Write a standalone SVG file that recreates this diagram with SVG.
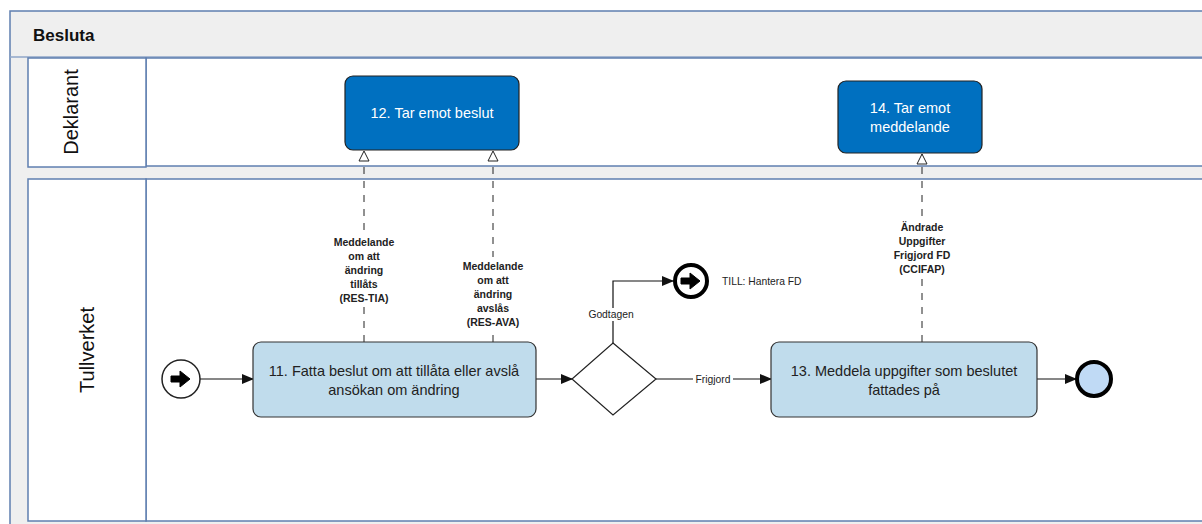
<svg xmlns="http://www.w3.org/2000/svg" width="1202" height="524" viewBox="0 0 1202 524">
<defs>
<style>
.lane{fill:#fff;stroke:#5f7fb0;stroke-width:1.5}
.task{fill:#c0dcec;stroke:#333;stroke-width:1.2}
.dtask{fill:#0070c0;stroke:#222;stroke-width:1.2}
.t{font-family:"Liberation Sans",Arial,sans-serif;font-size:14.5px;fill:#222;text-anchor:middle}
.tw{font-family:"Liberation Sans",Arial,sans-serif;font-size:14.5px;fill:#fff;text-anchor:middle}
.lbl{font-family:"Liberation Sans",Arial,sans-serif;font-size:10.5px;fill:#222;text-anchor:middle;font-weight:bold}
.sm{font-family:"Liberation Sans",Arial,sans-serif;font-size:10.3px;fill:#222}
.flow{fill:none;stroke:#111;stroke-width:1.2}
.msg{fill:none;stroke:#222;stroke-width:1;stroke-dasharray:7,7}
.lanelbl{font-family:"Liberation Sans",Arial,sans-serif;font-size:20px;fill:#111;text-anchor:middle}
</style>
<marker id="arr" markerWidth="12" markerHeight="10" refX="11" refY="5" orient="auto" markerUnits="userSpaceOnUse">
<path d="M0,0 L12,5 L0,10 Z" fill="#111"/>
</marker>
<marker id="hol" markerWidth="12" markerHeight="14" refX="11" refY="6" orient="auto" markerUnits="userSpaceOnUse">
<path d="M1,1 L11,6 L1,11 Z" fill="#fff" stroke="#222" stroke-width="1"/>
</marker>
</defs>
<rect x="0" y="0" width="1202" height="524" fill="#fff"/>
<g id="pool">
<rect x="10" y="11" width="1200" height="520" fill="#efefef" stroke="#5f7fb0" stroke-width="1.5"/>
<text x="33" y="41" font-family="'Liberation Sans',Arial,sans-serif" font-size="17" font-weight="bold" fill="#111">Besluta</text>
<line x1="10" y1="57" x2="1202" y2="57" stroke="#8fa6c8" stroke-width="1.5"/>
</g>
<g id="lane-deklarant">
<rect class="lane" x="146" y="58" width="1070" height="108"/>
<rect class="lane" x="28" y="58" width="118" height="109"/>
<text class="lanelbl" transform="translate(78,112) rotate(-90)">Deklarant</text>
</g>
<g id="lane-tullverket">
<rect class="lane" x="146" y="179" width="1070" height="342"/>
<rect class="lane" x="28" y="179" width="118" height="342"/>
<text class="lanelbl" transform="translate(94,350) rotate(-90)">Tullverket</text>
</g>
<g id="connectors">
<line class="flow" x1="200" y1="379" x2="253" y2="379" marker-end="url(#arr)"/>
<line class="flow" x1="536" y1="379" x2="572" y2="379" marker-end="url(#arr)"/>
<line class="flow" x1="656" y1="379" x2="771" y2="379" marker-end="url(#arr)"/>
<polyline class="flow" points="613,343 613,281 673,281" marker-end="url(#arr)"/>
<line class="flow" x1="1037" y1="379" x2="1076" y2="379" marker-end="url(#arr)"/>
<line class="msg" x1="364" y1="342" x2="364" y2="151" marker-end="url(#hol)"/>
<line class="msg" x1="493" y1="342" x2="493" y2="151" marker-end="url(#hol)"/>
<line class="msg" x1="922" y1="342" x2="922" y2="154" marker-end="url(#hol)"/>
<rect x="326" y="233" width="76" height="72" fill="#fff"/>
<text class="lbl"><tspan x="364" y="246">Meddelande</tspan><tspan x="364" y="260">om att</tspan><tspan x="364" y="274">ändring</tspan><tspan x="364" y="288">tillåts</tspan><tspan x="364" y="302">(RES-TIA)</tspan></text>
<rect x="455" y="257" width="76" height="72" fill="#fff"/>
<text class="lbl"><tspan x="493" y="270">Meddelande</tspan><tspan x="493" y="284">om att</tspan><tspan x="493" y="298">ändring</tspan><tspan x="493" y="312">avslås</tspan><tspan x="493" y="326">(RES-AVA)</tspan></text>
<rect x="876" y="218" width="92" height="58" fill="#fff"/>
<text class="lbl"><tspan x="922" y="231">Ändrade</tspan><tspan x="922" y="245">Uppgifter</tspan><tspan x="922" y="259">Frigjord FD</tspan><tspan x="922" y="273">(CCIFAP)</tspan></text>
<rect x="584" y="308" width="58" height="13" fill="#fff"/>
<text class="sm" x="611" y="318" text-anchor="middle">Godtagen</text>
<rect x="693" y="373" width="40" height="13" fill="#fff"/>
<text class="sm" x="713" y="383" text-anchor="middle">Frigjord</text>
</g>
<g id="task12">
<rect class="dtask" x="345" y="76" width="174" height="74" rx="8"/>
<text class="tw" x="432" y="118">12. Tar emot beslut</text>
</g>
<g id="task14">
<rect class="dtask" x="838" y="81" width="144" height="72" rx="8"/>
<text class="tw"><tspan x="910" y="113">14. Tar emot</tspan><tspan x="910" y="132">meddelande</tspan></text>
</g>
<g id="start">
<circle cx="181" cy="379" r="19" fill="#fff" stroke="#222" stroke-width="1.5"/>
<path d="M171,376 L180,376 L180,371 L190,379 L180,387 L180,382 L171,382 Z" fill="#000" stroke="#000" stroke-width="1" stroke-linejoin="round"/>
</g>
<g id="task11">
<rect class="task" x="253" y="342" width="283" height="75" rx="8"/>
<text class="t"><tspan x="394" y="376">11. Fatta beslut om att tillåta eller avslå</tspan><tspan x="394" y="395">ansökan om ändring</tspan></text>
</g>
<g id="gateway">
<polygon points="613,343 656,379 613,415 572,379" fill="#fff" stroke="#222" stroke-width="1.2"/>
</g>
<g id="link-hantera">
<circle cx="691" cy="281" r="16" fill="#fff" stroke="#000" stroke-width="4"/>
<path d="M681,278 L690,278 L690,273 L700,281 L690,289 L690,284 L681,284 Z" fill="#000" stroke="#000" stroke-width="1" stroke-linejoin="round"/>
<text class="sm" x="722" y="285">TILL: Hantera FD</text>
</g>
<g id="task13">
<rect class="task" x="771" y="342" width="266" height="75" rx="8"/>
<text class="t"><tspan x="904" y="376">13. Meddela uppgifter som beslutet</tspan><tspan x="904" y="395">fattades på</tspan></text>
</g>
<g id="end">
<circle cx="1094" cy="379" r="17" fill="#c0daf5" stroke="#000" stroke-width="4"/>
</g>
</svg>
